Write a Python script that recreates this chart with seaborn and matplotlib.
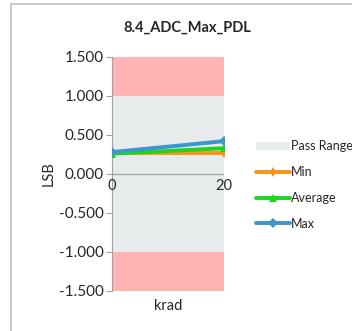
import numpy as np
import pandas as pd
import matplotlib.pyplot as plt
import seaborn as sns
from matplotlib.patches import Patch, Rectangle

# Verdier lest av figuren
krad = [0, 20]
min_vals = [0.27, 0.27]
avg_vals = [0.26, 0.33]
max_vals = [0.28, 0.42]
pass_low, pass_high = -1.0, 1.0
y_lo, y_hi = -1.5, 1.5
y_ticks = [-1.5, -1.0, -0.5, 0.0, 0.5, 1.0, 1.5]

sns.set_style("white")
plt.rcParams["font.family"] = ["Lato", "DejaVu Sans"]

df = pd.DataFrame({
    "krad": krad * 3,
    "LSB": min_vals + avg_vals + max_vals,
    "serie": ["Min"] * 2 + ["Average"] * 2 + ["Max"] * 2,
})

colors = {"Min": "#F7941D", "Average": "#1FD31F", "Max": "#3A96CC"}
markers = {"Min": "d", "Average": "^", "Max": "D"}

fig = plt.figure(figsize=(3.52, 3.31), dpi=100)
ax = fig.add_axes([0.318, 0.121, 0.318, 0.707])

# bakgrunnsbånd
ax.axhspan(pass_high, y_hi, color="#FFB3B3", lw=0, zorder=0)
ax.axhspan(pass_low, pass_high, color="#E7EBEB", lw=0, zorder=0)
ax.axhspan(y_lo, pass_low, color="#FFB3B3", lw=0, zorder=0)

sns.lineplot(data=df, x="krad", y="LSB", hue="serie", style="serie",
             palette=colors, markers=markers, dashes=False, linewidth=2.8,
             markersize=5.5, markeredgewidth=0, ax=ax, legend=False, zorder=3)

ax.set_xlim(krad[0], krad[-1])
ax.set_ylim(y_lo, y_hi)
ax.set_yticks(y_ticks)
ax.set_yticklabels([f"{v:.3f}" for v in y_ticks], fontsize=11)
ax.set_xticks(krad)
for s in ["top", "right", "bottom"]:
    ax.spines[s].set_visible(False)
ax.spines["left"].set_color("#A0A0A0")
ax.axhline(0, color="#A0A0A0", lw=0.9, zorder=2)
ax.tick_params(axis="y", left=True, length=4, color="#A0A0A0", pad=2)
ax.tick_params(axis="x", bottom=False, pad=0)
# x-etiketter under nullinjen
ax.set_xticklabels([])
for k in krad:
    ax.text(k, -0.07, str(k), ha="center", va="top", fontsize=10.5)

ax.set_xlabel("krad", fontsize=10.5, labelpad=2)
ax.set_ylabel("LSB", fontsize=10.5, labelpad=2)
fig.text(0.532, 0.915, "8.4_ADC_Max_PDL", ha="center", va="center",
         fontsize=10.5, fontweight="bold")

handles = [Patch(facecolor="#E7EBEB", edgecolor="none", label="Pass Range")]
for name in ["Min", "Average", "Max"]:
    handles.append(plt.Line2D([], [], color=colors[name], lw=2.8,
                              marker=markers[name], markersize=5.5,
                              markeredgewidth=0, label=name))
fig.legend(handles=handles, loc="center left", bbox_to_anchor=(0.7, 0.441),
           frameon=False, fontsize=9, handlelength=2.7, handletextpad=0.05,
           labelspacing=1.1, borderpad=0.3)

fig.patches.append(Rectangle((11 / 352, -0.1), 1.2, 1.1 - 4 / 331,
                             transform=fig.transFigure, fill=False,
                             edgecolor="#BFBFBF", lw=1.2))

fig.savefig("out.png", dpi=100)
